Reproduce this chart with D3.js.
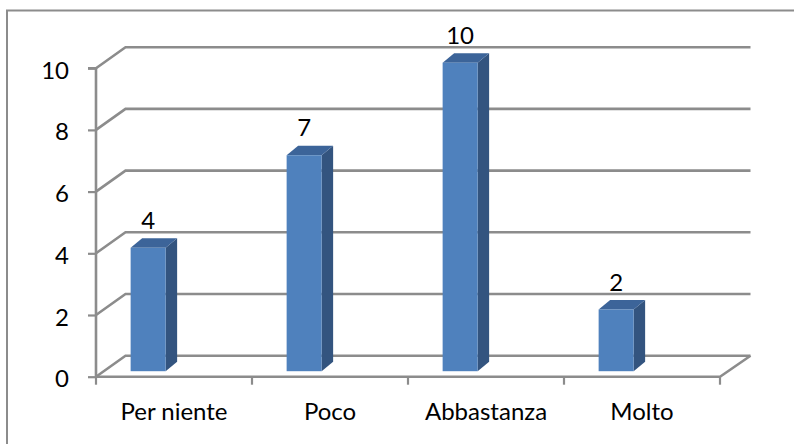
<!DOCTYPE html>
<html>
<head>
<meta charset="utf-8">
<script src="https://cdn.jsdelivr.net/npm/d3@7"></script>
<style>
  html, body { margin: 0; padding: 0; background: #fff; }
  svg { display: block; }
  text { font-family: Lato, "Noto Sans", sans-serif; fill: #000; }
</style>
</head>
<body>
<svg id="chart" width="794" height="444"></svg>
<script>
const categories = ["Per niente", "Poco", "Abbastanza", "Molto"];
const values = [4, 7, 10, 2];
const yTicks = [0, 2, 4, 6, 8, 10];

const svg = d3.select("#chart");
const W = 794, H = 444;
const FS = 24;

// outer chart border (extends beyond the picture at right/bottom)
svg.append("rect")
  .attr("x", 7).attr("y", 10.5)
  .attr("width", W + 20).attr("height", H + 20)
  .attr("fill", "#fff").attr("stroke", "#8c8c8c").attr("stroke-width", 2);

const x = d3.scaleBand().domain(categories).range([96, 720]).paddingInner(0).paddingOuter(0);
const y = d3.scaleLinear().domain([0, 10]).range([376.7, 68.2]);

// depth of the back wall
const DX = 29.5, DY = -21;
const gridColor = "#8c8c8c";

const g = svg.append("g");

// gridlines on back wall + side diagonals
yTicks.forEach(t => {
  const yy = y(t);
  g.append("path")
    .attr("d", `M${x.range()[0]},${yy} L${x.range()[0] + DX},${yy + DY} L${x.range()[1] + DX + 1},${yy + DY}`)
    .attr("fill", "none").attr("stroke", gridColor).attr("stroke-width", 2.6);
});

// floor front edge and right diagonal
g.append("path")
  .attr("d", `M${x.range()[0]},${y(0)} L${x.range()[1]},${y(0)} L${x.range()[1] + DX + 1},${y(0) + DY}`)
  .attr("fill", "none").attr("stroke", gridColor).attr("stroke-width", 2.6);

// y axis
const yAxis = d3.axisLeft(y).tickValues(yTicks).tickSize(8).tickPadding(19).tickFormat(d3.format("d"));
const ya = svg.append("g").attr("transform", `translate(${x.range()[0]},0)`).call(yAxis);
ya.select(".domain").attr("stroke", gridColor).attr("stroke-width", 2.6)
  .attr("d", `M-8,${y(10)}H0V${y(0)}`);
ya.selectAll(".tick line").attr("stroke", gridColor).attr("stroke-width", 2.2);
ya.selectAll(".tick text").attr("font-size", FS).attr("dy", 10).style("font-family", "Lato, sans-serif");

// x axis: ticks at band boundaries, labels at centers
const xa = svg.append("g").attr("transform", `translate(0,${y(0)})`);
const boundaries = categories.map(c => x(c)).concat([x.range()[1]]);
xa.selectAll("line.bt").data(boundaries).join("line")
  .attr("class", "bt")
  .attr("x1", d => d).attr("x2", d => d)
  .attr("y1", 0).attr("y2", 8)
  .attr("stroke", gridColor).attr("stroke-width", 2.2);
const xAxis = d3.axisBottom(x).tickSize(0).tickPadding(0);
const xg = svg.append("g").attr("transform", `translate(0,${y(0)})`).call(xAxis);
xg.select(".domain").remove();
xg.selectAll(".tick text").attr("font-size", FS).attr("dy", null).attr("y", 43.5)
  .style("font-family", "Lato, sans-serif");

// bars (3D boxes)
const bw = 35, bdx = 11.5, bdy = -9.5, lift = 5.5;
const bars = svg.append("g");
categories.forEach((c, i) => {
  const v = values[i];
  const x0 = x(c) + x.bandwidth() * 0.222;
  const x1 = x0 + bw;
  const yb = y(0) - lift;
  const yt = y(v) - lift;
  // side face
  bars.append("path")
    .attr("d", `M${x1},${yb} L${x1 + bdx},${yb + bdy} L${x1 + bdx},${yt + bdy} L${x1},${yt} Z`)
    .attr("fill", "#33547f");
  // top face
  bars.append("path")
    .attr("d", `M${x0},${yt} L${x0 + bdx},${yt + bdy} L${x1 + bdx},${yt + bdy} L${x1},${yt} Z`)
    .attr("fill", "#3c6499");
  // front face
  bars.append("rect")
    .attr("x", x0).attr("y", yt).attr("width", bw).attr("height", yb - yt)
    .attr("fill", "#4f81bd");
  // value label
  bars.append("text")
    .attr("x", x0 + bw / 2).attr("y", y(v) - 24.5)
    .attr("text-anchor", "middle").attr("font-size", FS)
    .text(v);
});
</script>
</body>
</html>
